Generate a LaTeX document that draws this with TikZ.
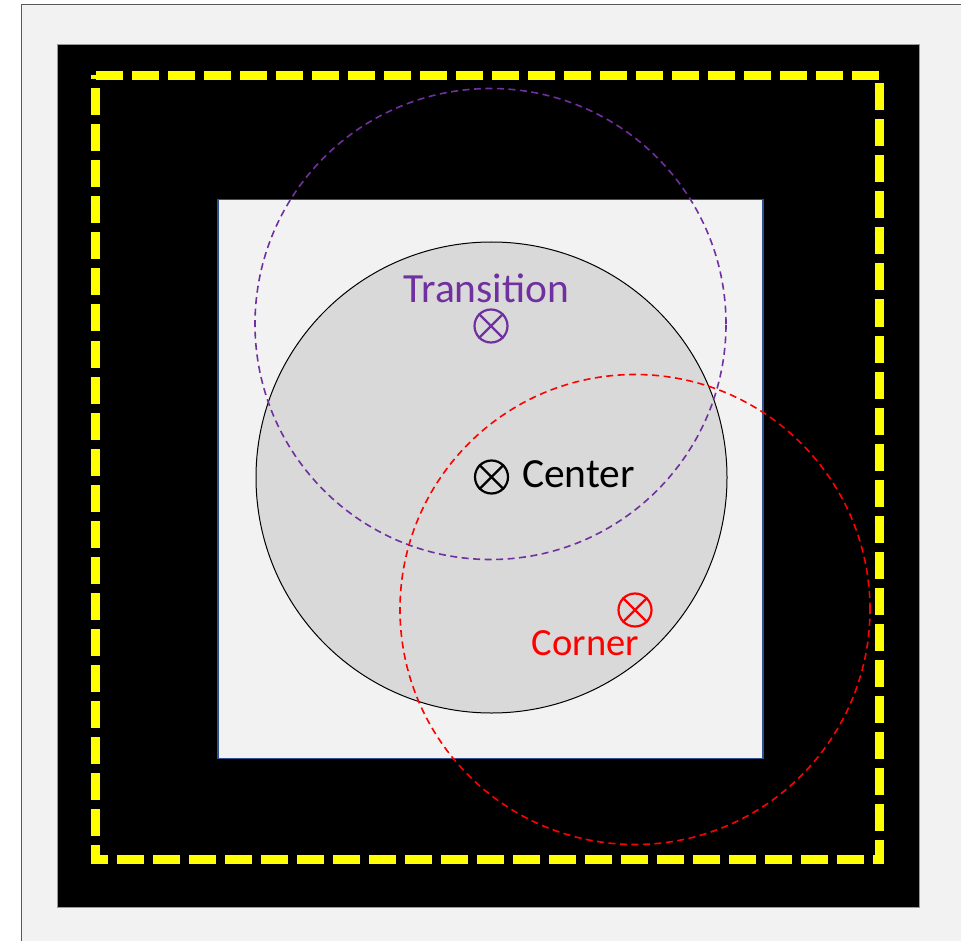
\documentclass[tikz,border=0pt]{standalone}
\usepackage{fontspec}
\setmainfont{Carlito}
\definecolor{pgray}{HTML}{F2F2F2}
\definecolor{cgray}{HTML}{D9D9D9}
\definecolor{ppurple}{HTML}{7030A0}
\definecolor{pred}{HTML}{FF0000}
\definecolor{pyellow}{HTML}{FFFF00}
\definecolor{pblue}{HTML}{2F528F}
\tikzset{
  xsym/.style={circle, minimum size=33pt, inner sep=0pt, line width=2.2pt},
  lbl/.style={inner sep=0pt, anchor=base, font=\fontsize{41.5}{45}\selectfont},
  dcirc/.style={line width=1.6pt, dash pattern=on 7pt off 4.5pt}
}
\begin{document}
\begin{tikzpicture}[x=1pt,y=-1pt]
\useasboundingbox (0,0) rectangle (961,941);
\clip (0,0) rectangle (961,941);
\fill[white] (0,0) rectangle (961,941);
% frame
\draw[fill=pgray, draw=black!65, line width=1.2pt] (21.5,4.5) rectangle (980,960);
% black square
\draw[fill=black, draw=black!40, line width=0.8pt] (57.5,44.5) rectangle (919,907);
% yellow dashed
\draw[pyellow, line width=9pt, dash pattern=on 27pt off 9pt, miter limit=10] (95.5,75.5) -- (879.5,75.5) -- (879.5,859.5) -- (95.5,859.5) -- cycle;
% inner square
\draw[fill=pgray, draw=pblue, line width=1.3pt] (218,199.5) rectangle (763,758.5);
% gray circle
\draw[fill=cgray, draw=black, line width=1pt] (491.5,477.5) circle[radius=235.5pt];
% dashed circles
\draw[dcirc, ppurple] (490.5,324) circle[radius=235.5pt];
\draw[dcirc, pred] (635,609.5) circle[radius=235pt];
% symbols
\node[xsym, draw=ppurple] (tsym) at (491,326) {};
\draw[ppurple, line width=2.2pt] (tsym.north west) -- (tsym.south east) (tsym.north east) -- (tsym.south west);
\node[xsym, draw=black] (csym) at (491.5,477) {};
\draw[black, line width=2.2pt] (csym.north west) -- (csym.south east) (csym.north east) -- (csym.south west);
\node[xsym, draw=pred] (rsym) at (635,610) {};
\draw[pred, line width=2.2pt] (rsym.north west) -- (rsym.south east) (rsym.north east) -- (rsym.south west);
% labels
\node[lbl, text=ppurple] (tlbl) at (486.5,303) {Transition};
\node[lbl, text=black, anchor=base west] (clbl) at (522,487) {Center};
\node[lbl, text=pred, font=\fontsize{38.5}{42}\selectfont] (rlbl) at (585.5,655) {Corner};
\end{tikzpicture}
\end{document}
